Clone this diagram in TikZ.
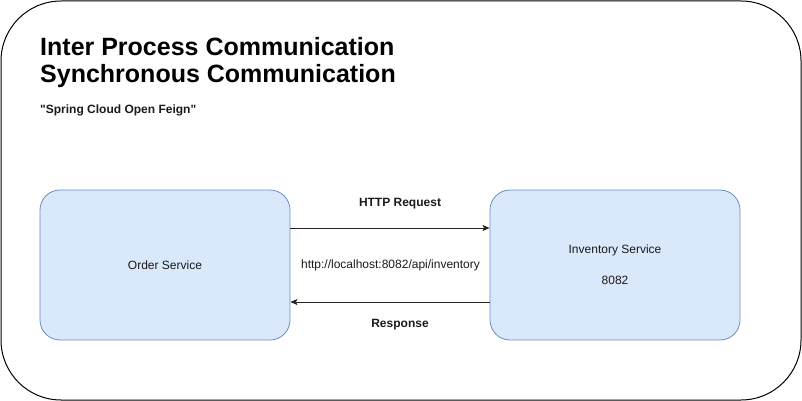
\documentclass[tikz,border=0pt]{standalone}
\usepackage{fontspec}
\setmainfont{Liberation Sans}[Ligatures=TeXOff]
\usepackage{tikz}
\usetikzlibrary{arrows.meta,positioning}
\definecolor{SvcFill}{HTML}{DAE8FC}
\definecolor{SvcLine}{HTML}{6C8EBF}
\definecolor{SvcText}{HTML}{1A1A1A}
\tikzset{
  moldura/.style={draw=black, line width=1pt, rounded corners=60pt},
  servico/.style={draw=SvcLine, fill=SvcFill, rounded corners=20pt, line width=0.8pt,
                  minimum width=250pt, minimum height=150pt, align=center,
                  text=SvcText, font=\fontsize{12}{15.5}\selectfont},
  seta/.style={-{Stealth[length=7pt,width=6pt,inset=1.5pt]}, line width=0.9pt, black!85},
  titulo/.style={anchor=west, inner sep=0pt, font=\fontsize{25}{29}\selectfont\bfseries},
  rotulo/.style={inner sep=0pt, font=\fontsize{12}{14}\selectfont, text=SvcText},
  rotulonegrito/.style={rotulo, font=\fontsize{12}{14}\selectfont\bfseries},
}
\begin{document}
\begin{tikzpicture}[x=1pt, y=-1pt]
  \useasboundingbox (0,0) rectangle (802,401);
  \draw[moldura] (1,1) rectangle (801,400);

  % titulos
  \node[titulo] (tit1) at (40,47) {Inter Process Communication};
  \node[titulo] (tit2) at (40,76) {Synchronous Communication};
  \node[rotulonegrito, anchor=west] (sub) at (40,110) {"Spring Cloud Open Feign"};

  % servicos
  \node[servico] (order) at (165,265) {Order Service};
  \node[servico] (inventory) at (615,265) {Inventory Service\\[15.5pt]8082};

  % chamada e resposta
  \draw[seta] ([yshift=37pt]order.east) -- ([yshift=37pt]inventory.west);
  \draw[seta] ([yshift=-37pt]inventory.west) -- ([yshift=-37pt]order.east);
  \node[rotulonegrito] (req) at (400,204) {HTTP Request};
  \node[rotulo] (url) at (390.5,265) {http://localhost:8082/api/inventory};
  \node[rotulonegrito] (resp) at (400,325) {Response};
\end{tikzpicture}
\end{document}
